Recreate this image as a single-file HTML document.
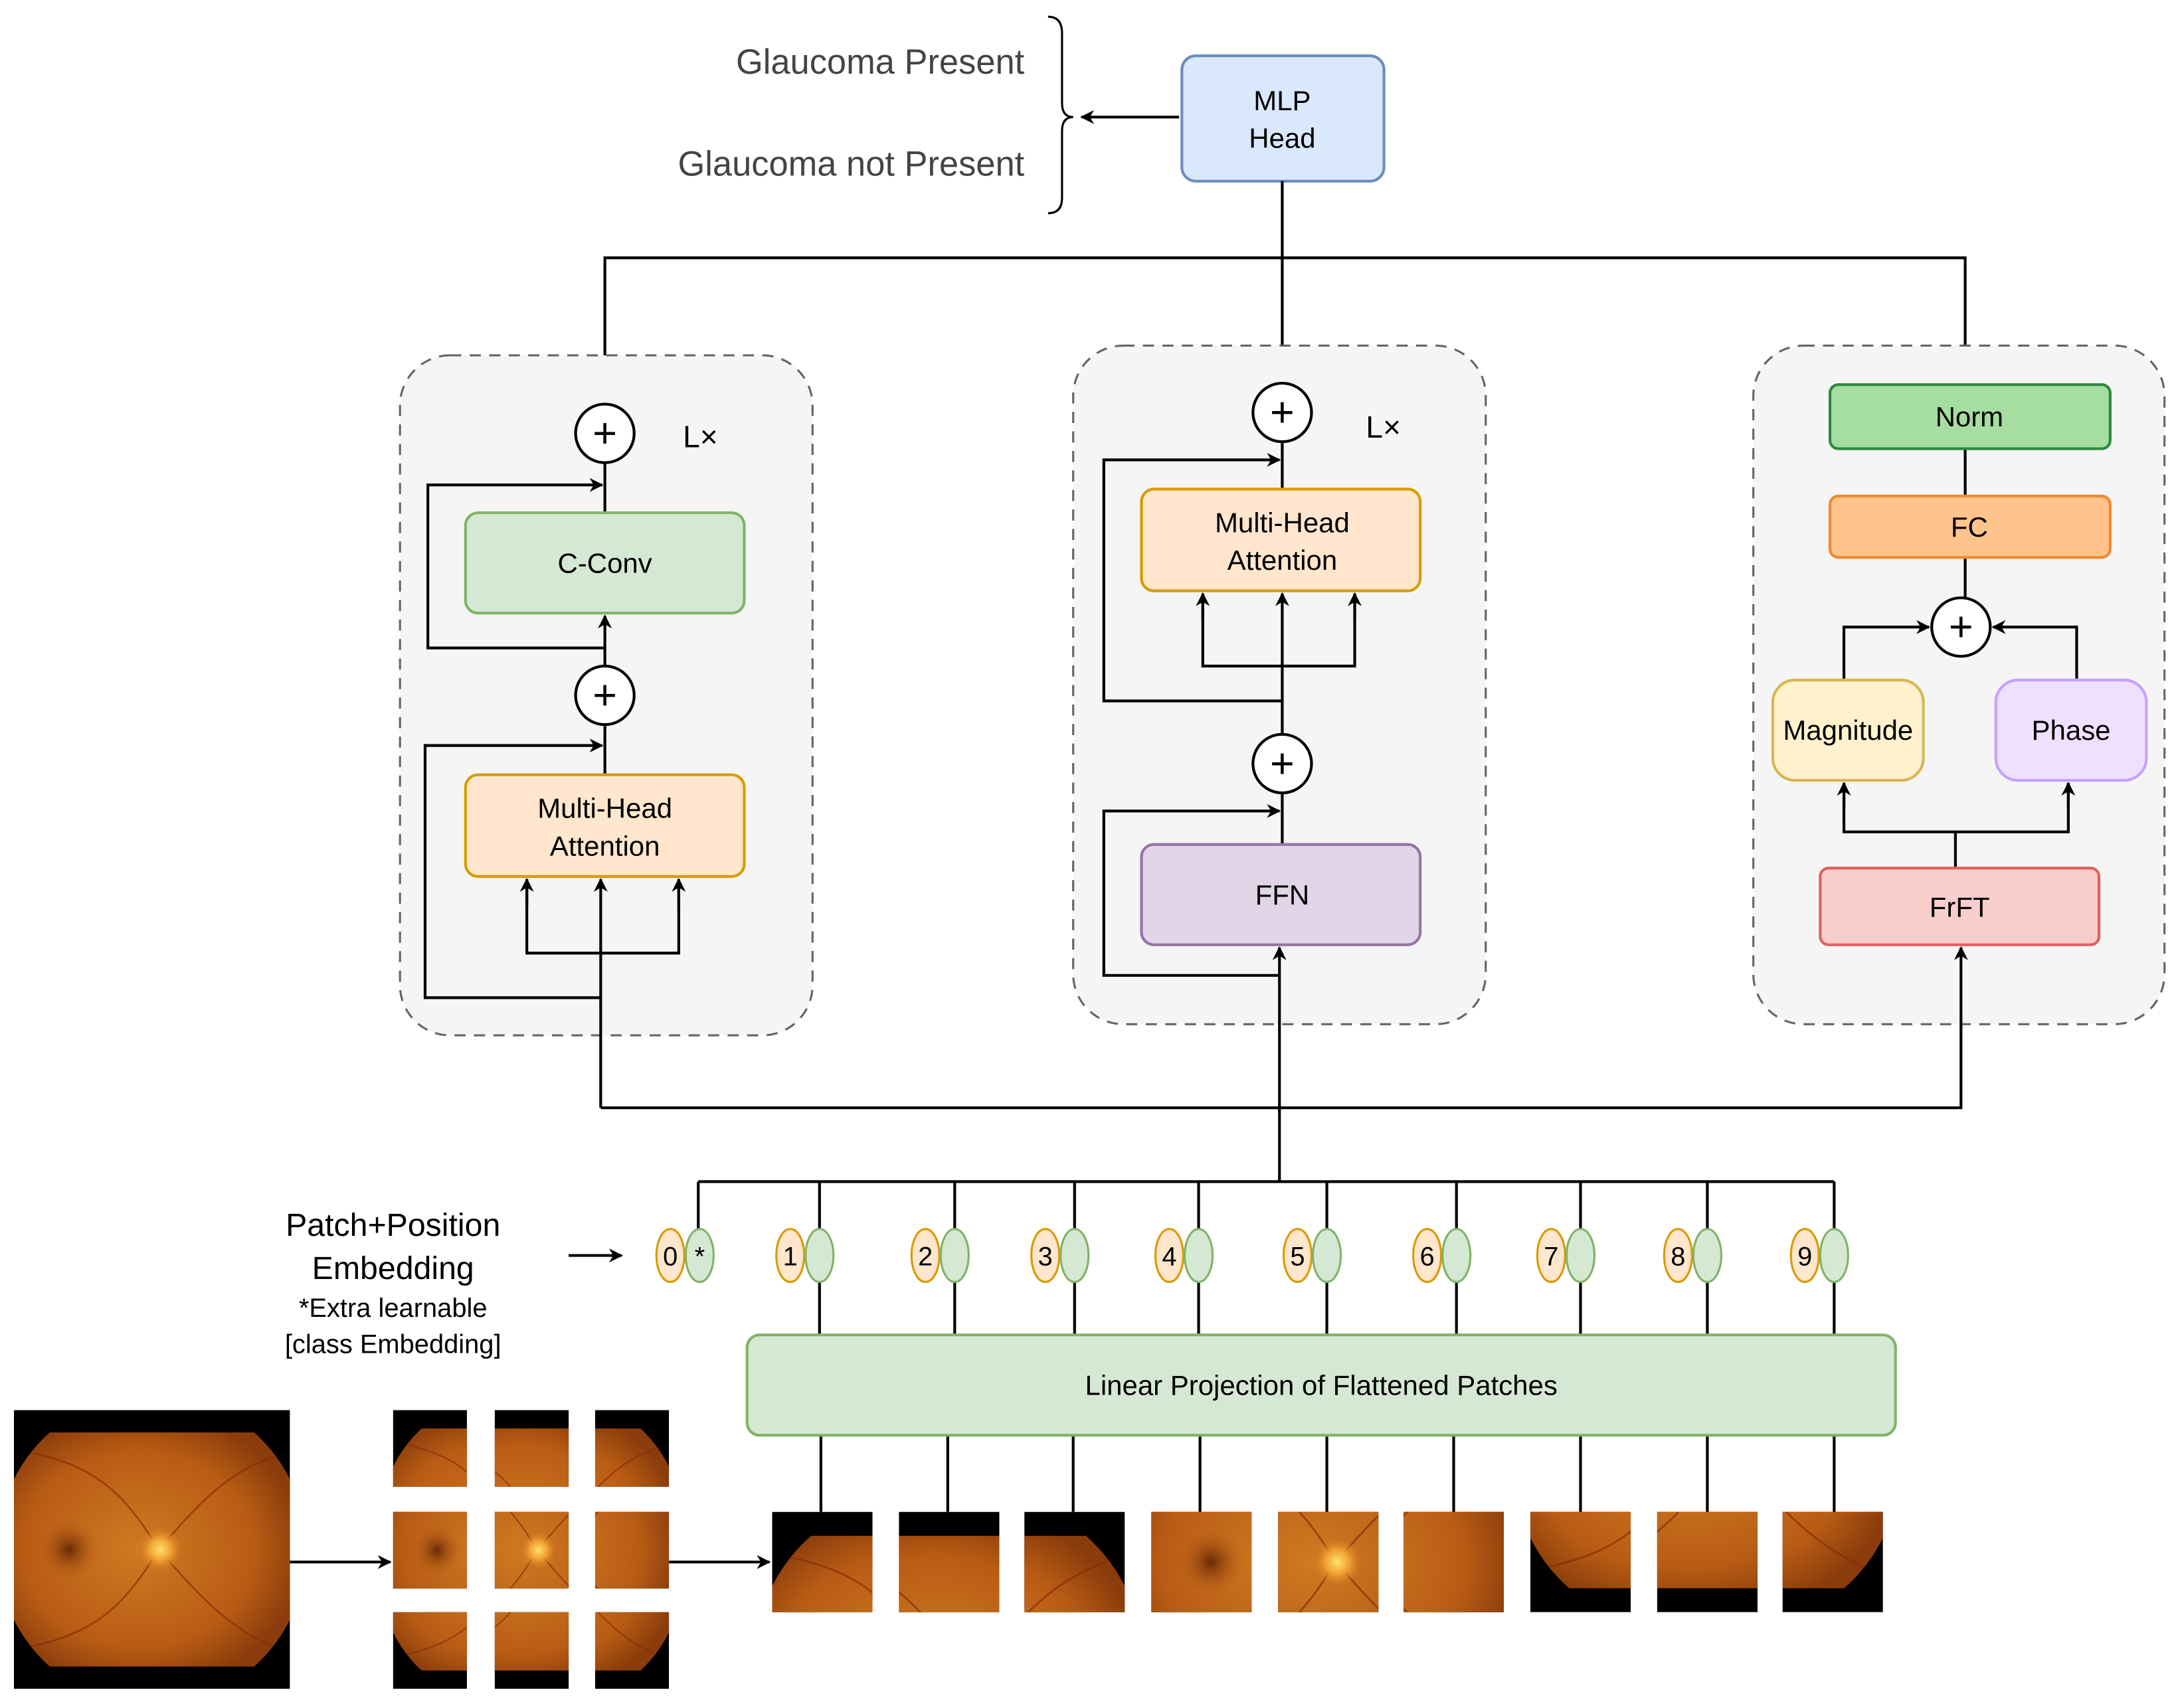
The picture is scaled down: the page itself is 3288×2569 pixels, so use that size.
<!DOCTYPE html>
<html><head><meta charset="utf-8"><style>
html,body{margin:0;padding:0;background:#fff;width:3288px;height:2569px;overflow:hidden;}
svg{display:block;}
text{font-family:"Liberation Sans",sans-serif;}
</style></head><body>
<svg width="3288" height="2569" viewBox="0 0 1567 1224.3" xmlns="http://www.w3.org/2000/svg">
<defs>
<marker id="a" markerWidth="10" markerHeight="10" refX="9" refY="5" orient="auto" markerUnits="userSpaceOnUse">
<path d="M0,0 L10,5 L0,10 L3,5 z" fill="#000"/></marker>
<radialGradient id="rg" cx="0.45" cy="0.5" r="0.6">
<stop offset="0" stop-color="#d07a22"/><stop offset="0.7" stop-color="#b85c14"/><stop offset="1" stop-color="#8a3c0c"/></radialGradient>
<radialGradient id="od" cx="0.5" cy="0.5" r="0.5">
<stop offset="0" stop-color="#ffe070"/><stop offset="0.5" stop-color="#f0a030"/><stop offset="1" stop-color="#d07a22" stop-opacity="0"/></radialGradient>
<radialGradient id="mac" cx="0.5" cy="0.5" r="0.5">
<stop offset="0" stop-color="#6a2a08"/><stop offset="1" stop-color="#b85c14" stop-opacity="0"/></radialGradient>
<clipPath id="cc"><circle cx="100" cy="100" r="112"/></clipPath>
<g id="f">
<rect x="0" y="0" width="200" height="200" fill="#000"/>
<g clip-path="url(#cc)">
<rect x="0" y="16" width="200" height="168" fill="url(#rg)"/>
<circle cx="40" cy="100" r="22" fill="url(#mac)"/>
<path d="M105,100 C80,60 60,40 10,30 M105,100 C80,140 60,160 10,170 M105,100 C140,60 160,40 200,30 M105,100 C140,140 160,160 200,175" stroke="#8a2a08" stroke-width="1.2" fill="none" opacity="0.7"/>
<circle cx="106" cy="100" r="16" fill="url(#od)"/>
</g>
</g>
</defs>

<g font-size="25" fill="#444" text-anchor="end">
<text x="735" y="53">Glaucoma Present</text>
<text x="735" y="126">Glaucoma not Present</text>
</g>
<path d="M752,12 Q762,12 762,24 L762,74 Q762,84 770,84 Q762,84 762,94 L762,142 Q762,153 752,153" fill="none" stroke="#000" stroke-width="1.5"/>
<line x1="846" y1="84" x2="776" y2="84" stroke="#000" stroke-width="2" marker-end="url(#a)"/>
<rect x="848" y="40" width="145" height="90" rx="10" fill="#dae8fc" stroke="#6c8ebf" stroke-width="2"/>
<text x="920" y="79" font-size="20" text-anchor="middle">MLP</text>
<text x="920" y="106" font-size="20" text-anchor="middle">Head</text>

<g stroke="#000" stroke-width="2" fill="none">
<line x1="920" y1="130" x2="920" y2="275"/>
<polyline points="434,290 434,185 1410,185 1410,276"/>
</g>

<g fill="#f5f5f5" stroke="#666" stroke-width="1.5" stroke-dasharray="8,6">
<rect x="287" y="255" width="296" height="488" rx="36"/>
<rect x="770" y="248" width="296" height="487" rx="36"/>
<rect x="1258" y="248" width="295" height="487" rx="36"/>
</g>

<g stroke="#000" stroke-width="2" fill="none">
<line x1="434" y1="332" x2="434" y2="368"/>
<polyline points="434,465 307,465 307,348 432,348" marker-end="url(#a)"/>
<line x1="434" y1="478" x2="434" y2="442" marker-end="url(#a)"/>
<line x1="434" y1="556" x2="434" y2="520"/>
<polyline points="431,716 305,716 305,535 432,535" marker-end="url(#a)"/>
<line x1="431" y1="795" x2="431" y2="631" marker-end="url(#a)"/>
<polyline points="378,631 378,684 487,684 487,631"/>
<line x1="378" y1="650" x2="378" y2="631" marker-end="url(#a)"/>
<line x1="487" y1="650" x2="487" y2="631" marker-end="url(#a)"/>
</g>
<rect x="334" y="368" width="200" height="72" rx="9" fill="#d5e8d4" stroke="#82b366" stroke-width="2"/>
<text x="434" y="411" font-size="20" text-anchor="middle">C-Conv</text>
<rect x="334" y="556" width="200" height="73" rx="9" fill="#ffe6cc" stroke="#d79b00" stroke-width="2"/>
<text x="434" y="587" font-size="20" text-anchor="middle">Multi-Head</text>
<text x="434" y="614" font-size="20" text-anchor="middle">Attention</text>
<g fill="#fff" stroke="#000" stroke-width="2"><circle cx="434" cy="311" r="21"/><circle cx="434" cy="499" r="21"/>
<circle cx="920" cy="296" r="21"/><circle cx="920" cy="548" r="21"/><circle cx="1407" cy="450" r="21"/></g>
<g font-size="30" text-anchor="middle"><text x="434" y="321">+</text><text x="434" y="509">+</text><text x="920" y="306">+</text><text x="920" y="558">+</text><text x="1407" y="460">+</text></g>
<text x="490" y="321" font-size="22">L×</text>
<text x="980" y="314" font-size="22">L×</text>

<g stroke="#000" stroke-width="2" fill="none">
<line x1="920" y1="351" x2="920" y2="317"/>
<polyline points="920,503 792,503 792,330 918,330" marker-end="url(#a)"/>
<line x1="920" y1="527" x2="920" y2="426" marker-end="url(#a)"/>
<polyline points="863,426 863,478 972,478 972,426"/>
<line x1="863" y1="445" x2="863" y2="426" marker-end="url(#a)"/>
<line x1="972" y1="445" x2="972" y2="426" marker-end="url(#a)"/>
<line x1="920" y1="606" x2="920" y2="569"/>
<polyline points="918,700 792,700 792,582 918,582" marker-end="url(#a)"/>
<line x1="918" y1="848" x2="918" y2="680" marker-end="url(#a)"/>
</g>
<rect x="819" y="351" width="200" height="73" rx="9" fill="#ffe6cc" stroke="#d79b00" stroke-width="2"/>
<text x="920" y="382" font-size="20" text-anchor="middle">Multi-Head</text>
<text x="920" y="409" font-size="20" text-anchor="middle">Attention</text>
<rect x="819" y="606" width="200" height="72" rx="9" fill="#e1d5e7" stroke="#9673a6" stroke-width="2"/>
<text x="920" y="649" font-size="20" text-anchor="middle">FFN</text>

<g stroke="#000" stroke-width="2" fill="none">
<line x1="1410" y1="322" x2="1410" y2="356"/>
<line x1="1410" y1="400" x2="1410" y2="429"/>
<polyline points="1323,488 1323,450 1384,450" marker-end="url(#a)"/>
<polyline points="1490,488 1490,450 1430,450" marker-end="url(#a)"/>
<line x1="1403" y1="623" x2="1403" y2="597"/>
<polyline points="1323,562 1323,597 1484,597 1484,562"/>
<line x1="1323" y1="580" x2="1323" y2="562" marker-end="url(#a)"/>
<line x1="1484" y1="580" x2="1484" y2="562" marker-end="url(#a)"/>
<polyline points="431,795 1407,795 1407,680" marker-end="url(#a)"/>
</g>
<rect x="1313" y="276" width="201" height="46" rx="6" fill="#a6dda0" stroke="#2d8a3e" stroke-width="2"/>
<text x="1413" y="306" font-size="20" text-anchor="middle">Norm</text>
<rect x="1313" y="356" width="201" height="44" rx="6" fill="#ffc48c" stroke="#f08a30" stroke-width="2"/>
<text x="1413" y="385" font-size="20" text-anchor="middle">FC</text>
<rect x="1272" y="488" width="108" height="72" rx="16" fill="#fff2cc" stroke="#d6b656" stroke-width="2"/>
<text x="1326" y="531" font-size="20" text-anchor="middle">Magnitude</text>
<rect x="1432" y="488" width="108" height="72" rx="16" fill="#f0e0ff" stroke="#c8a0ff" stroke-width="2"/>
<text x="1486" y="531" font-size="20" text-anchor="middle">Phase</text>
<rect x="1306" y="623" width="200" height="55" rx="6" fill="#f8cecc" stroke="#e06060" stroke-width="2"/>
<text x="1406" y="658" font-size="20" text-anchor="middle">FrFT</text>

<g stroke="#000" stroke-width="2" fill="none">
<line x1="501" y1="848" x2="1316" y2="848"/>
<path d="M501,848V882 M588,848V882 M685,848V882 M771,848V882 M860,848V882 M952,848V882 M1045,848V882 M1134,848V882 M1225,848V882 M1316,848V882"/>
<path d="M588,920V958 M685,920V958 M771,920V958 M860,920V958 M952,920V958 M1045,920V958 M1134,920V958 M1225,920V958 M1316,920V958"/>
<line x1="408" y1="901" x2="446" y2="901" marker-end="url(#a)"/>
<path d="M589,1030V1085 M680,1030V1085 M770,1030V1085 M861,1030V1085 M952,1030V1085 M1043,1030V1085 M1134,1030V1085 M1225,1030V1085 M1316,1030V1085"/>
<line x1="208" y1="1121" x2="280" y2="1121" marker-end="url(#a)"/>
<line x1="480" y1="1121" x2="552" y2="1121" marker-end="url(#a)"/>
</g>
<g stroke-width="1.5">
<g fill="#ffe6cc" stroke="#d79b00">
<ellipse cx="481" cy="901" rx="10" ry="19"/><ellipse cx="567" cy="901" rx="10" ry="19"/><ellipse cx="664" cy="901" rx="10" ry="19"/><ellipse cx="750" cy="901" rx="10" ry="19"/><ellipse cx="839" cy="901" rx="10" ry="19"/><ellipse cx="931" cy="901" rx="10" ry="19"/><ellipse cx="1024" cy="901" rx="10" ry="19"/><ellipse cx="1113" cy="901" rx="10" ry="19"/><ellipse cx="1204" cy="901" rx="10" ry="19"/><ellipse cx="1295" cy="901" rx="10" ry="19"/></g>
<g fill="#d5e8d4" stroke="#82b366">
<ellipse cx="502" cy="901" rx="10" ry="19"/><ellipse cx="588" cy="901" rx="10" ry="19"/><ellipse cx="685" cy="901" rx="10" ry="19"/><ellipse cx="771" cy="901" rx="10" ry="19"/><ellipse cx="860" cy="901" rx="10" ry="19"/><ellipse cx="952" cy="901" rx="10" ry="19"/><ellipse cx="1045" cy="901" rx="10" ry="19"/><ellipse cx="1134" cy="901" rx="10" ry="19"/><ellipse cx="1225" cy="901" rx="10" ry="19"/><ellipse cx="1316" cy="901" rx="10" ry="19"/></g>
</g>
<g font-size="19" text-anchor="middle">
<text x="481" y="908">0</text><text x="502" y="908">*</text><text x="567" y="908">1</text><text x="664" y="908">2</text><text x="750" y="908">3</text><text x="839" y="908">4</text><text x="931" y="908">5</text><text x="1024" y="908">6</text><text x="1113" y="908">7</text><text x="1204" y="908">8</text><text x="1295" y="908">9</text>
</g>
<g text-anchor="middle">
<text x="282" y="887" font-size="23">Patch+Position</text>
<text x="282" y="918" font-size="23">Embedding</text>
<text x="282" y="945" font-size="19">*Extra learnable</text>
<text x="282" y="971" font-size="19">[class Embedding]</text>
</g>
<rect x="536" y="958" width="824" height="72" rx="9" fill="#d5e8d4" stroke="#82b366" stroke-width="2"/>
<text x="948" y="1001" font-size="20" text-anchor="middle">Linear Projection of Flattened Patches</text>

<svg x="10" y="1012" width="198" height="200" viewBox="0 0 200 200" preserveAspectRatio="none"><use href="#f"/></svg>
<svg x="282" y="1012" width="53" height="55" viewBox="0 0 67 67" preserveAspectRatio="none"><use href="#f"/></svg>
<svg x="355" y="1012" width="53" height="55" viewBox="67 0 66 67" preserveAspectRatio="none"><use href="#f"/></svg>
<svg x="427" y="1012" width="53" height="55" viewBox="133 0 67 67" preserveAspectRatio="none"><use href="#f"/></svg>
<svg x="282" y="1085" width="53" height="55" viewBox="0 67 67 66" preserveAspectRatio="none"><use href="#f"/></svg>
<svg x="355" y="1085" width="53" height="55" viewBox="67 67 66 66" preserveAspectRatio="none"><use href="#f"/></svg>
<svg x="427" y="1085" width="53" height="55" viewBox="133 67 67 66" preserveAspectRatio="none"><use href="#f"/></svg>
<svg x="282" y="1157" width="53" height="55" viewBox="0 133 67 67" preserveAspectRatio="none"><use href="#f"/></svg>
<svg x="355" y="1157" width="53" height="55" viewBox="67 133 66 67" preserveAspectRatio="none"><use href="#f"/></svg>
<svg x="427" y="1157" width="53" height="55" viewBox="133 133 67 67" preserveAspectRatio="none"><use href="#f"/></svg>

<svg x="554" y="1085" width="72" height="72" viewBox="0 0 67 67" preserveAspectRatio="none"><use href="#f"/></svg>
<svg x="645" y="1085" width="72" height="72" viewBox="67 0 66 67" preserveAspectRatio="none"><use href="#f"/></svg>
<svg x="735" y="1085" width="72" height="72" viewBox="133 0 67 67" preserveAspectRatio="none"><use href="#f"/></svg>
<svg x="826" y="1085" width="72" height="72" viewBox="0 67 67 66" preserveAspectRatio="none"><use href="#f"/></svg>
<svg x="917" y="1085" width="72" height="72" viewBox="67 67 66 66" preserveAspectRatio="none"><use href="#f"/></svg>
<svg x="1007" y="1085" width="72" height="72" viewBox="133 67 67 66" preserveAspectRatio="none"><use href="#f"/></svg>
<svg x="1098" y="1085" width="72" height="72" viewBox="0 133 67 67" preserveAspectRatio="none"><use href="#f"/></svg>
<svg x="1189" y="1085" width="72" height="72" viewBox="67 133 66 67" preserveAspectRatio="none"><use href="#f"/></svg>
<svg x="1279" y="1085" width="72" height="72" viewBox="133 133 67 67" preserveAspectRatio="none"><use href="#f"/></svg>
</svg>
</body></html>
